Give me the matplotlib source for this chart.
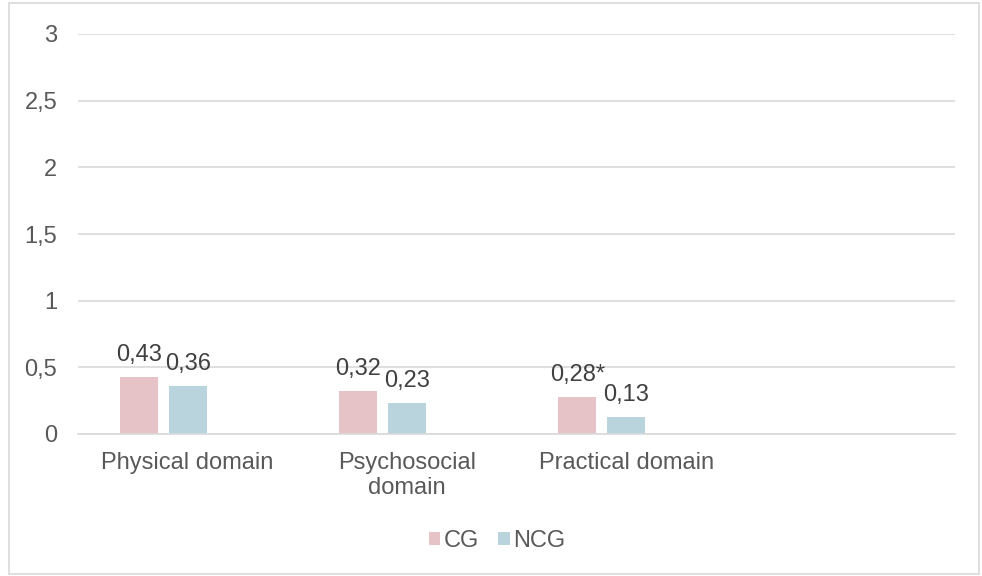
import numpy as np
import matplotlib
matplotlib.use("Agg")
import matplotlib.pyplot as plt
from matplotlib.patches import Rectangle

categories = ["Physical domain", "Psychosocial\ndomain", "Practical domain", ""]
cg = [0.43, 0.32, 0.28, np.nan]
ncg = [0.36, 0.23, 0.13, np.nan]
cg_labels = ["0,43", "0,32", "0,28*"]
ncg_labels = ["0,36", "0,23", "0,13"]
yticks = [0, 0.5, 1, 1.5, 2, 2.5, 3]
ytick_labels = ["0", "0,5", "1", "1,5", "2", "2,5", "3"]

plt.rcParams['font.family'] = ['Liberation Sans', 'DejaVu Sans']
text_color = "#595959"
grid_color = "#D9D9D9"
c_cg = "#E6C3C7"
c_ncg = "#B9D4DC"
fs = 17

fig = plt.figure(figsize=(9.82, 5.76), dpi=100)
fig.add_artist(Rectangle((0.009, 0.004), 0.988, 0.99, transform=fig.transFigure,
                         fill=False, edgecolor=grid_color, linewidth=1.2))

ax = fig.add_axes([78/982, 1 - 434/576, (955-78)/982, (434-34)/576])
x = np.arange(len(categories))
w = 0.173
off = 0.222
b1 = ax.bar(x - off, cg, w, color=c_cg, label="CG")
b2 = ax.bar(x, ncg, w, color=c_ncg, label="NCG")

for i, lab in enumerate(cg_labels):
    ax.annotate(lab, (x[i] - off, cg[i]), xytext=(0, 11.5), textcoords="offset points",
                ha="center", va="baseline", fontsize=fs, color="#404040")
for i, lab in enumerate(ncg_labels):
    ax.annotate(lab, (x[i], ncg[i]), xytext=(0, 11.5), textcoords="offset points",
                ha="center", va="baseline", fontsize=fs, color="#404040")

ax.set_xlim(-0.5, len(categories) - 0.5)
ax.set_ylim(0, 3)
ax.set_yticks(yticks)
ax.set_yticklabels(ytick_labels)
ax.set_xticks(x)
ax.set_xticklabels(categories, linespacing=1.15)
ax.tick_params(axis="both", length=0, labelsize=fs, colors=text_color)
ax.tick_params(axis="y", pad=15)
ax.tick_params(axis="x", pad=13)
ax.yaxis.grid(True, color=grid_color, linewidth=1.2)
ax.set_axisbelow(True)
for s in ["top", "right", "left"]:
    ax.spines[s].set_visible(False)
ax.spines["bottom"].set_color(grid_color)
ax.spines["bottom"].set_linewidth(1.2)

fig.legend(handles=[b1, b2], loc="center", bbox_to_anchor=(497/982, 1 - 541/576),
           ncol=2, frameon=False, fontsize=fs, labelcolor=text_color,
           handlelength=0.5, handleheight=0.5, handletextpad=0.15, columnspacing=0.8)

fig.savefig("out.png", dpi=100)
